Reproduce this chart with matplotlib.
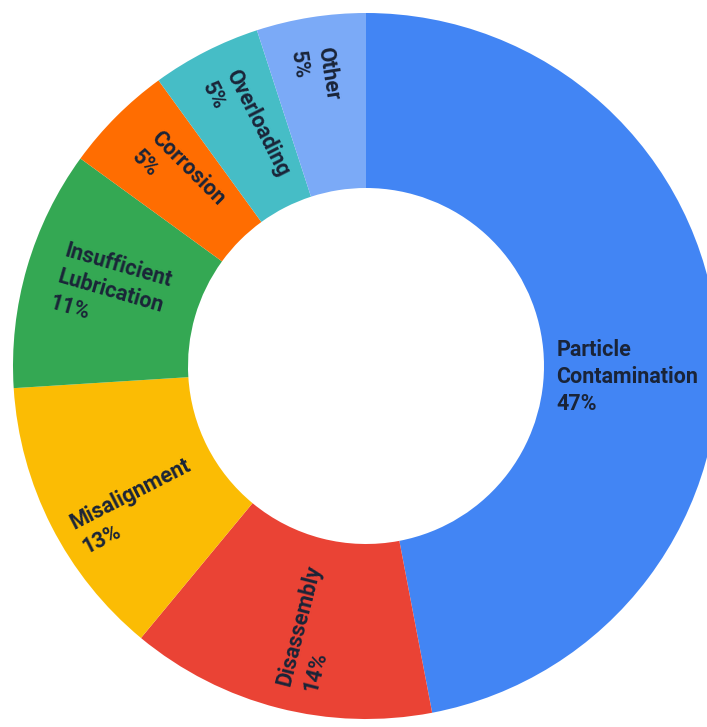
import numpy as np
import matplotlib
matplotlib.use("Agg")
import matplotlib.pyplot as plt

# data
causes = ["Particle\nContamination", "Disassembly", "Misalignment",
          "Insufficient\nLubrication", "Corrosion", "Overloading", "Other"]
shares = [47, 14, 13, 11, 5, 5, 5]
colors = ["#4285F4", "#EA4335", "#FBBC04", "#34A853", "#FF6D01", "#46BDC6", "#7BAAF7"]

# layout (pixels, figure is 707x727 at dpi 100)
W, H = 707, 727
cx, cy = 366, H - 366
r_out, r_in = 353, 178
text_color = "#1a2438"
# some labels sit a bit off the wedge middle in the reference (pixels)
nudge = {"Particle\nContamination": (-3, -36), "Other": (-10, 28),
         "Misalignment": (7, -20), "Disassembly": (13, -5)}

fig = plt.figure(figsize=(W / 100, H / 100), dpi=100)
ax = fig.add_axes([0, 0, 1, 1])

wedges, _ = ax.pie(shares, colors=colors, startangle=90, counterclock=False,
                   center=(cx, cy), radius=r_out,
                   wedgeprops=dict(width=r_out - r_in, linewidth=0))

r_mid = (r_out + r_in) / 2
for w, name, val in zip(wedges, causes, shares):
    ang = (w.theta1 + w.theta2) / 2
    a = np.deg2rad(ang)
    x = cx + r_mid * np.cos(a)
    y = cy + r_mid * np.sin(a)
    dx, dy = nudge.get(name, (0, 0))
    x, y = x + dx, y + dy
    if val > 25:
        rot = 0
    else:
        rot = ang % 360
        if 90 < rot < 270:
            rot -= 180
    ax.text(x, y, f"{name}\n{val}%", rotation=rot, rotation_mode="anchor",
            ha="center", va="center", multialignment="left",
            fontsize=15.5, fontweight="bold", family="Roboto",
            color=text_color, linespacing=1.3)

ax.set_xlim(0, W)
ax.set_ylim(0, H)
ax.set_aspect("equal")
ax.axis("off")

fig.savefig("out.png", dpi=100, facecolor="white")
